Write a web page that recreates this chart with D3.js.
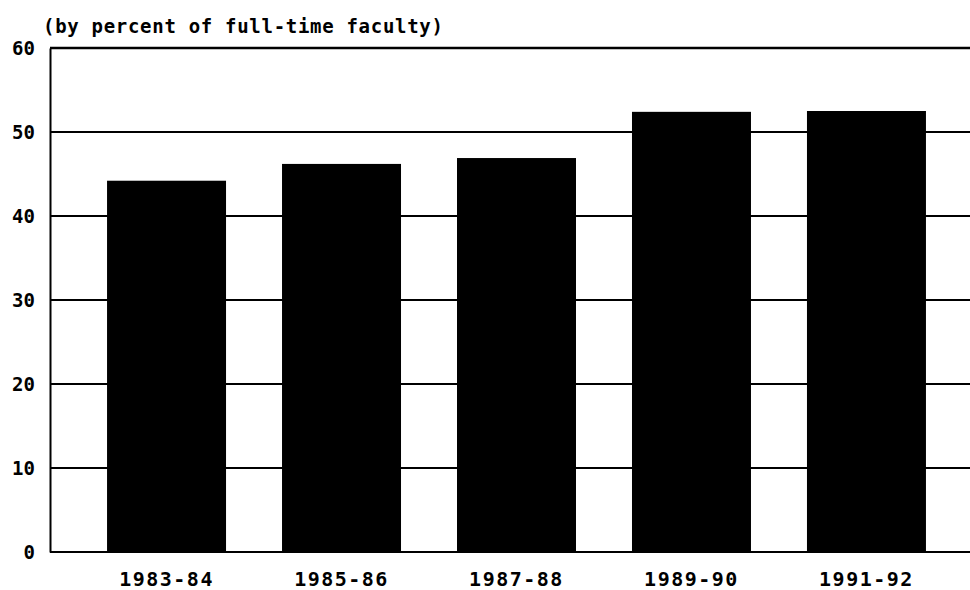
<!DOCTYPE html>
<html><head><meta charset="utf-8">
<script src="https://cdn.jsdelivr.net/npm/d3@7"></script>
<style>body{margin:0;background:#fff}svg{display:block}</style>
</head><body>
<svg id="c" width="970" height="590"></svg>
<script>
const categories = ["1983-84","1985-86","1987-88","1989-90","1991-92"];
const values = [44.2, 46.2, 46.9, 52.4, 52.5];
const yTicks = [0,10,20,30,40,50,60];
const title = "(by percent of full-time faculty)";

(function(){
const svg = d3.select("#c");
const mLeft = 50, mRight = 983, mTop = 48, mBottom = 552;
const x = d3.scaleBand().domain(categories).range([mLeft, mRight]).paddingInner(0.32).paddingOuter(0.326);
const y = d3.scaleLinear().domain([0,60]).range([mBottom, mTop]);
const font = "'DejaVu Sans Mono','Liberation Mono',monospace";

svg.append("g").selectAll("line").data(yTicks).join("line")
  .attr("x1", mLeft).attr("x2", 970)
  .attr("y1", d => y(d)).attr("y2", d => y(d))
  .attr("stroke", "#000").attr("stroke-width", d => d === 60 ? 2.5 : 2);

const ya = svg.append("g").attr("transform", `translate(${mLeft},0)`)
  .call(d3.axisLeft(y).tickValues(yTicks).tickSize(0).tickPadding(15));
ya.select(".domain").attr("stroke", "#000").attr("stroke-width", 2);
ya.selectAll("text").attr("font-family", font).attr("font-weight", "bold")
  .attr("font-size", 19).attr("fill", "#000");

svg.append("g").selectAll("rect").data(values).join("rect")
  .attr("x", (d,i) => x(categories[i])).attr("width", x.bandwidth())
  .attr("y", d => y(d)).attr("height", d => y(0) - y(d))
  .attr("fill", "#000");

const xa = svg.append("g").attr("transform", `translate(0,${mBottom})`)
  .call(d3.axisBottom(x).tickSize(0).tickPadding(20));
xa.select(".domain").remove();
xa.selectAll("text").attr("font-family", font).attr("font-weight", "bold")
  .attr("font-size", 20).attr("fill", "#000").attr("letter-spacing", 1.5);

svg.append("text").attr("x", 43).attr("y", 33).text(title)
  .attr("font-family", font).attr("font-weight", "bold")
  .attr("font-size", 19).attr("letter-spacing", 0.7).attr("fill", "#000");
})();
</script>
</body></html>
